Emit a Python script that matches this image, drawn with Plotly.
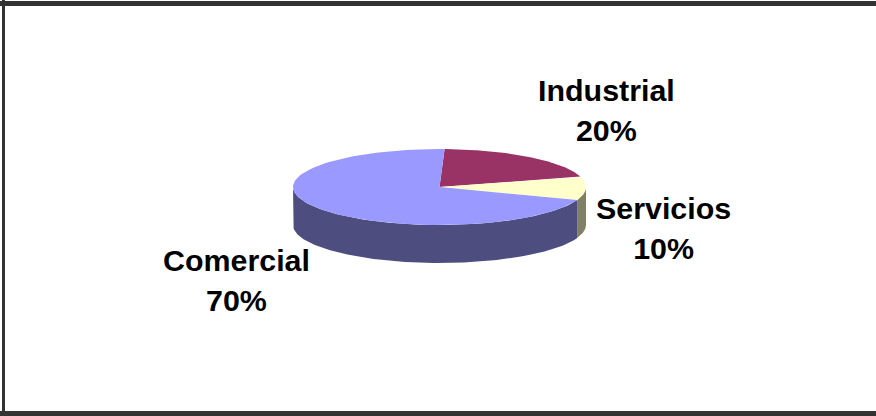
import numpy as np
import plotly.graph_objects as go

categories = ["Industrial", "Servicios", "Comercial"]
values = [20, 10, 70]
top_colors = ["#993366", "#FFFFCC", "#9999FF"]
side_colors = ["#4D1A33", "#808066", "#4D4D80"]

# Pie geometry on the 876x416 page (pixels)
W, H = 876, 416
CX, CY, RX, RY, DEPTH = 439.5, 187, 146.5, 38, 38
START_DEG = 88
LABEL_XY = {"Industrial": (606, 110), "Servicios": (663, 228), "Comercial": (236, 280)}
FONT_SIZE = 30.4


def arc(a0, a1):
    t = np.radians(np.linspace(a0, a1, 120))
    return CX + RX * np.cos(t), CY - RY * np.sin(t)


fig = go.Figure()
total = sum(values)
angle = START_DEG
spans = []
for v in values:
    sweep = 360 * v / total
    spans.append((angle, angle - sweep))
    angle -= sweep

# side walls: only the front part of the rim (parametric angle between -180 and 0)
for name, (a0, a1), col in zip(categories, spans, side_colors):
    for shift in (0, -360):
        hi, lo = min(a0 + shift, 0), max(a1 + shift, -180)
        if hi <= lo:
            continue
        x, y = arc(hi, lo)
        fig.add_trace(go.Scatter(
            x=np.r_[x, x[::-1]], y=np.r_[y, y[::-1] + DEPTH],
            mode="lines", fill="toself", fillcolor=col, line=dict(width=0),
            name=name, hoverinfo="skip", showlegend=False))

# top face
for name, (a0, a1), col in zip(categories, spans, top_colors):
    x, y = arc(a0, a1)
    fig.add_trace(go.Scatter(
        x=np.r_[CX, x, CX], y=np.r_[CY, y, CY],
        mode="lines", fill="toself", fillcolor=col, line=dict(width=0),
        name=name, hoverinfo="skip", showlegend=False))

for name, v in zip(categories, values):
    lx, ly = LABEL_XY[name]
    fig.add_annotation(x=lx, y=ly, text=f"<b>{name}<br>{round(100 * v / total)}%</b>",
                       showarrow=False, xanchor="center", yanchor="middle", align="center",
                       font=dict(family="Liberation Sans", size=FONT_SIZE, color="black"))

FRAME = "#333333"
for x0, y0, x1, y1 in [(0, 1, W, 6), (2, 0, 5, H), (0, 411, W, H)]:
    fig.add_shape(type="rect", x0=x0, y0=y0, x1=x1, y1=y1, fillcolor=FRAME,
                  line=dict(width=0), layer="below")

fig.update_layout(
    width=W, height=H, margin=dict(l=0, r=0, t=0, b=0, autoexpand=False),
    paper_bgcolor="white", plot_bgcolor="white", showlegend=False,
    xaxis=dict(range=[0, W], visible=False, fixedrange=True),
    yaxis=dict(range=[H, 0], visible=False, fixedrange=True),
)
fig.write_html("out.html", config={"displayModeBar": False},
               post_script="document.body.style.margin='0';document.body.style.overflow='hidden';")
